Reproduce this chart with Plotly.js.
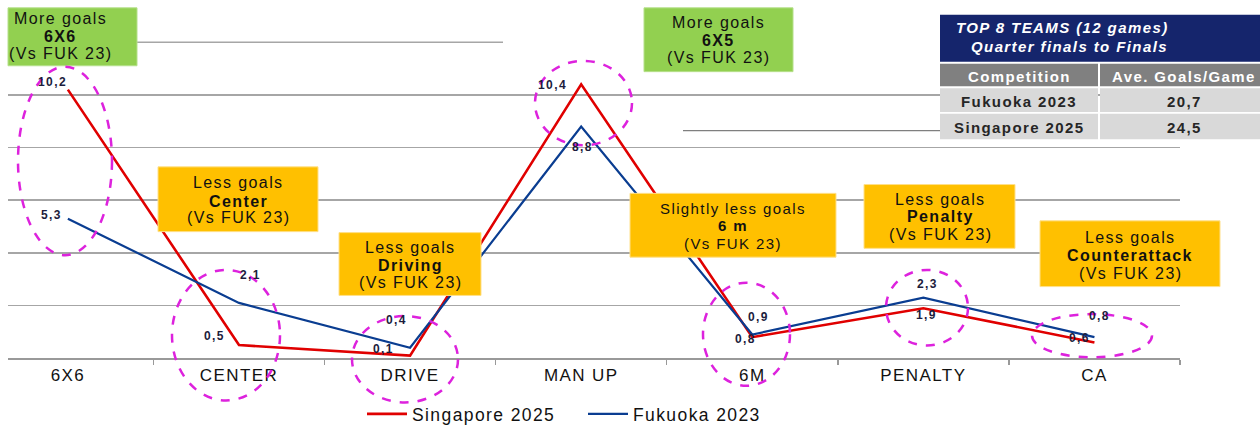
<!DOCTYPE html>
<html>
<head>
<meta charset="utf-8">
<script src="https://cdn.plot.ly/plotly-3.0.1.min.js"></script>
<style>
  html, body { margin:0; padding:0; background:#fff; width:1260px; height:432px; overflow:hidden; }
  #chart { width:1260px; height:432px; display:block; overflow:hidden; }
  svg text { letter-spacing: 1.4px; }
</style>
</head>
<body>
<div id="chart"></div>
<script>
// ---- data ----
const categories = ['6X6', 'CENTER', 'DRIVE', 'MAN UP', '6M', 'PENALTY', 'CA'];
const singapore2025 = [10.2, 0.5, 0.1, 10.4, 0.8, 1.9, 0.6];
const fukuoka2023 = [5.3, 2.1, 0.4, 8.8, 0.9, 2.3, 0.8];
const seriesNames = ['Singapore 2025', 'Fukuoka 2023'];
const tableTitle = ['TOP 8 TEAMS (12 games)', 'Quarter finals to Finals'];
const tableHeader = ['Competition', 'Ave. Goals/Game'];
const competitions = ['Fukuoka 2023', 'Singapore 2025'];
const aveGoals = [20.7, 24.5];
const boxTexts = [
  ['More goals', '6X6', '(Vs FUK 23)'],
  ['More goals', '6X5', '(Vs FUK 23)'],
  ['Less goals', 'Center', '(Vs FUK 23)'],
  ['Less goals', 'Driving', '(Vs FUK 23)'],
  ['Slightly less goals', '6 m', '(Vs FUK 23)'],
  ['Less goals', 'Penalty', '(Vs FUK 23)'],
  ['Less goals', 'Counterattack', '(Vs FUK 23)']
];

// ---- helpers ----
const W = 1260, H = 432;
const px = x => x / W;
const py = y => 1 - y / H;
const fmt = v => v.toFixed(1).replace('.', ',');
const FONT = 'Liberation Sans, Arial, sans-serif';
const RED = '#e00000', BLUE = '#0a3d91', MAG = '#dd22dd';
const GREEN = '#92d050', YELLOW = '#ffc000';

const traces = [
  { type: 'scatter', mode: 'lines', name: seriesNames[0], x: categories, y: singapore2025,
    line: { color: RED, width: 2.6 }, hoverinfo: 'skip' },
  { type: 'scatter', mode: 'lines', name: seriesNames[1], x: categories, y: fukuoka2023,
    line: { color: BLUE, width: 2.2 }, hoverinfo: 'skip' }
];

// data labels offsets (pixels) relative to each point
const redOff = [[-15, 8], [-24, 9], [-27, 7], [-29, -1], [-7, -2], [3, -7], [-15, 4]];
const blueOff = [[-16, 4], [12, 28], [-14, 28], [1, -21], [6, 18], [4, 14], [5, 21]];
const annotations = [];
const shapes = [];
categories.forEach((c, i) => {
  annotations.push({ x: c, y: singapore2025[i], xref: 'x', yref: 'y', text: '<b>' + fmt(singapore2025[i]) + '</b>',
    showarrow: false, xshift: redOff[i][0], yshift: redOff[i][1], font: { family: FONT, size: 12, color: '#1c1c3c' } });
  annotations.push({ x: c, y: fukuoka2023[i], xref: 'x', yref: 'y', text: '<b>' + fmt(fukuoka2023[i]) + '</b>',
    showarrow: false, xshift: blueOff[i][0], yshift: blueOff[i][1], font: { family: FONT, size: 12, color: '#1c1c3c' } });
});

// partial decorative lines
shapes.push({ type: 'line', xref: 'paper', yref: 'paper', x0: px(135), x1: px(503), y0: py(43), y1: py(43),
  line: { color: '#a6a6a6', width: 1.5 }, layer: 'below' });
shapes.push({ type: 'line', xref: 'paper', yref: 'paper', x0: px(683), x1: px(940), y0: py(133), y1: py(133),
  line: { color: '#7f7f7f', width: 1.2 }, layer: 'below' });

// comment boxes: rect [x0,y0,x1,y1], text center x, line y positions, size
const boxes = [
  { r: [8, 8, 137, 67], cx: 60, ly: [19, 37, 54], s: 16, col: GREEN },
  { r: [644, 8, 793, 73], cx: 718, ly: [23, 41, 59], s: 16, col: GREEN },
  { r: [158, 170, 318, 236], cx: 238, ly: [186, 205, 222], s: 16, col: YELLOW },
  { r: [339, 237, 481, 301], cx: 410, ly: [252, 270, 288], s: 16, col: YELLOW },
  { r: [630, 197, 836, 262], cx: 733, ly: [212, 230, 248], s: 15, col: YELLOW },
  { r: [864, 188, 1015, 253], cx: 940, ly: [203, 221, 239], s: 16, col: YELLOW },
  { r: [1040, 225, 1220, 292], cx: 1130, ly: [242, 260, 279], s: 16, col: YELLOW }
];
boxes.forEach((b, i) => {
  shapes.push({ type: 'rect', xref: 'paper', yref: 'paper', x0: px(b.r[0]), x1: px(b.r[2]), y0: py(b.r[3]), y1: py(b.r[1]),
    fillcolor: b.col, line: { color: b.col === GREEN ? '#b5e08a' : '#ffe08a', width: 1 }, layer: 'above' });
  boxTexts[i].forEach((t, k) => {
    annotations.push({ xref: 'paper', yref: 'paper', x: px(b.cx), y: py(b.ly[k]), xanchor: 'center', yanchor: 'middle',
      text: k === 1 ? '<b>' + t + '</b>' : t, showarrow: false,
      font: { family: FONT, size: b.s, color: '#111111' } });
  });
});

// summary table (built from the table arrays)
const tblX = [940, 1099, 1260];
const colCx = [1019, 1184];
shapes.push({ type: 'rect', xref: 'paper', yref: 'paper', x0: px(940), x1: 1, y0: py(63), y1: py(15),
  fillcolor: '#15256c', line: { width: 0 }, layer: 'above' });
annotations.push({ xref: 'paper', yref: 'paper', x: px(954), y: py(28), xanchor: 'left', yanchor: 'middle',
  text: '<b><i>' + tableTitle[0] + '</i></b>', showarrow: false, font: { family: FONT, size: 15, color: '#ffffff' } });
annotations.push({ xref: 'paper', yref: 'paper', x: px(969), y: py(47), xanchor: 'left', yanchor: 'middle',
  text: '<b><i>' + tableTitle[1] + '</i></b>', showarrow: false, font: { family: FONT, size: 15, color: '#ffffff' } });
const rowY = [[65, 88], [90, 114], [116, 142]];
const rows = [tableHeader, ...competitions.map((c, i) => [c, fmt(aveGoals[i])])];
rows.forEach((row, r) => {
  row.forEach((txt, c) => {
    shapes.push({ type: 'rect', xref: 'paper', yref: 'paper',
      x0: px(tblX[c] + (c ? 1 : 0)), x1: px(tblX[c + 1] - (c ? 0 : 1)), y0: py(rowY[r][1]), y1: py(rowY[r][0]),
      fillcolor: r === 0 ? '#808080' : '#d9d9d9', line: { width: 0 }, layer: 'above' });
    annotations.push({ xref: 'paper', yref: 'paper', x: px(colCx[c]), y: py((rowY[r][0] + rowY[r][1]) / 2 + 1),
      xanchor: 'center', yanchor: 'middle', text: '<b>' + txt + '</b>', showarrow: false,
      font: { family: FONT, size: 15, color: r === 0 ? '#ffffff' : '#262626' } });
  });
});

// dashed ellipses
const ellipses = [
  [18, 68, 112, 260], [172, 275, 280, 408], [352, 322, 458, 410], [535, 62, 632, 148],
  [703, 288, 790, 393], [886, 275, 968, 352], [1032, 320, 1152, 364]
];
ellipses.forEach(e => shapes.push({ type: 'circle', xref: 'paper', yref: 'paper',
  x0: px(e[0]), x1: px(e[2]), y0: py(e[3]), y1: py(e[1]),
  line: { color: MAG, width: 2.5, dash: 'dash' }, fillcolor: 'rgba(0,0,0,0)', layer: 'above' }));

const layout = {
  width: W, height: H,
  margin: { l: 0, r: 0, t: 0, b: 0 },
  paper_bgcolor: '#ffffff', plot_bgcolor: '#ffffff',
  font: { family: FONT, color: '#111111' },
  xaxis: { type: 'category', domain: [px(8), px(1180)], range: [-0.35, 6.5],
    showgrid: false, zeroline: false, showline: true, linecolor: '#999999', linewidth: 2,
    ticks: 'outside', tickson: 'boundaries', ticklen: 5, tickcolor: '#999999', tickwidth: 1.5,
    tickfont: { family: FONT, size: 17, color: '#111111' }, automargin: false, fixedrange: true },
  yaxis: { domain: [py(365), py(43)], range: [0, 12], tickvals: [0, 2, 4, 6, 8, 10],
    showticklabels: false, showgrid: true, gridcolor: '#a6a6a6', gridwidth: 1.5,
    zeroline: false, showline: false, ticks: '', automargin: false, fixedrange: true },
  showlegend: true,
  legend: { orientation: 'h', x: px(362), xanchor: 'left', y: py(422), yanchor: 'middle',
    font: { family: FONT, size: 17.5, color: '#111111' }, bgcolor: 'rgba(0,0,0,0)',
    itemwidth: 40, entrywidth: 166, entrywidthmode: 'pixels' },
  shapes: shapes,
  annotations: annotations
};

Plotly.newPlot('chart', traces, layout, { staticPlot: true, displayModeBar: false });
</script>
</body>
</html>
